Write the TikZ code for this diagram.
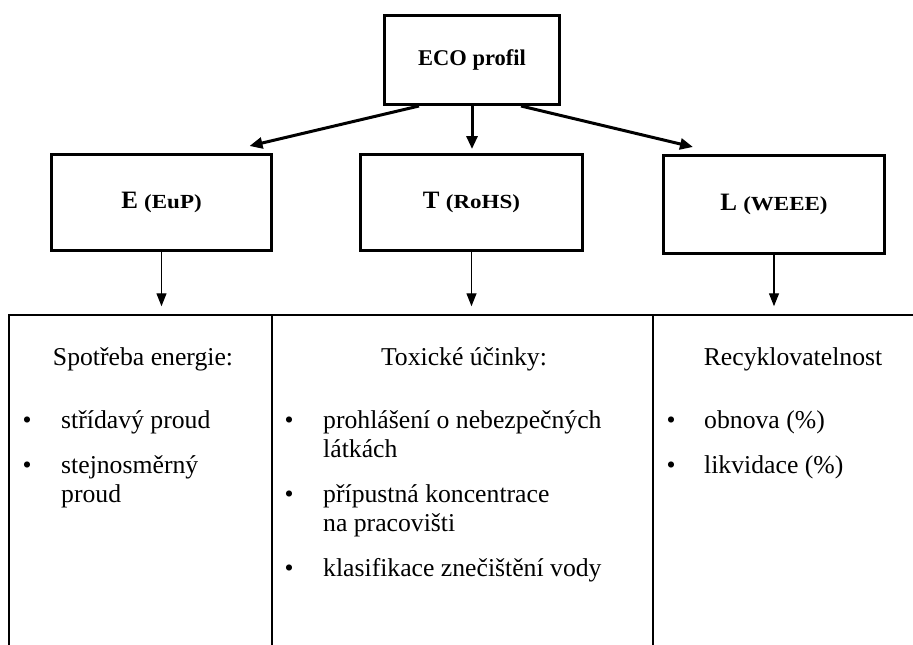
\documentclass[tikz,border=0pt]{standalone}
\usepackage{fontspec}
\setmainfont{Liberation Serif}
\newfontfamily\widebf[FakeStretch=1.15]{Liberation Serif Bold}
\usetikzlibrary{arrows.meta}
\newcommand{\bodyfont}{\fontsize{25.7}{29}\selectfont}
\begin{document}
\begin{tikzpicture}[x=1pt,y=-1pt,
  topbox/.style={draw,line width=3pt,inner sep=0pt},
  cell/.style={draw,line width=1.5pt,inner sep=0pt,minimum height=385pt},
  bigarrow/.style={line width=3pt,-{Triangle[length=13pt,width=11pt]}},
  downarrow/.style={line width=1.4pt,-{Triangle[length=13pt,width=10pt]}},
  head/.style={anchor=base,inner sep=0pt,font=\bodyfont},
  itemtext/.style={anchor=base west,inner sep=0pt,font=\bodyfont},
  dot/.style={anchor=base,inner sep=0pt,font=\bodyfont}]
\clip (0,0) rectangle (913,645);
% top boxes
\node[topbox,minimum width=175pt,minimum height=89pt] (eco) at (472,60)
  {\bfseries\fontsize{22.5}{26}\selectfont ECO profil};
\node[topbox,minimum width=220pt,minimum height=96pt] (E) at (161.5,202.5)
  {\bfseries\fontsize{25}{28}\selectfont E {\widebf\fontsize{20}{24}\selectfont(EuP)}};
\node[topbox,minimum width=222pt,minimum height=96pt] (T) at (471.5,202.5)
  {\bfseries\fontsize{25}{28}\selectfont T {\widebf\fontsize{20}{24}\selectfont(RoHS)}};
\node[topbox,minimum width=221pt,minimum height=98pt] (L) at (774,204.5)
  {\bfseries\fontsize{25}{28}\selectfont L {\widebf\fontsize{20}{24}\selectfont(WEEE)}};
% table cells
\node[cell,minimum width=263pt] (c1) at (140.5,507.5) {};
\node[cell,minimum width=381pt] (c2) at (462.5,507.5) {};
\node[cell,minimum width=287pt] (c3) at (796.5,507.5) {};
% arrows
\draw[bigarrow] ([xshift=-53pt]eco.south) -- ([xshift=-23.5pt,yshift=7pt]E.north east);
\draw[bigarrow] (eco.south) -- ([yshift=4pt]eco.south |- T.north);
\draw[bigarrow] ([xshift=49pt]eco.south) -- ([xshift=31pt,yshift=7pt]L.north west);
\draw[downarrow] (E.south) -- ([yshift=8pt]E.south |- c1.north);
\draw[downarrow] (T.south) -- ([yshift=8pt]T.south |- c2.north);
\draw[downarrow] (L.south) -- ([yshift=8pt]L.south |- c3.north);
% column 1
\node[head] (h1) at (143,365) {Spotřeba energie:};
\node[dot] (b11) at (27,428) {•};
\node[itemtext] (i11) at (61,428) {střídavý proud};
\node[dot] (b12) at (27,473) {•};
\node[itemtext] (i12) at (61,473) {stejnosměrný};
\node[itemtext] (i12b) at (61,502) {proud};
% column 2
\node[head] (h2) at (464,365) {Toxické účinky:};
\node[dot] (b21) at (289,428) {•};
\node[itemtext] (i21) at (323,428) {prohlášení o nebezpečných};
\node[itemtext] (i21b) at (323,457) {látkách};
\node[dot] (b22) at (289,502) {•};
\node[itemtext] (i22) at (323,502) {přípustná koncentrace};
\node[itemtext] (i22b) at (323,531) {na pracovišti};
\node[dot] (b23) at (289,576) {•};
\node[itemtext] (i23) at (323,576) {klasifikace znečištění vody};
% column 3
\node[head] (h3) at (793,365) {Recyklovatelnost};
\node[dot] (b31) at (671,428) {•};
\node[itemtext] (i31) at (704,428) {obnova (\%)};
\node[dot] (b32) at (671,473) {•};
\node[itemtext] (i32) at (704,473) {likvidace (\%)};
\end{tikzpicture}
\end{document}
